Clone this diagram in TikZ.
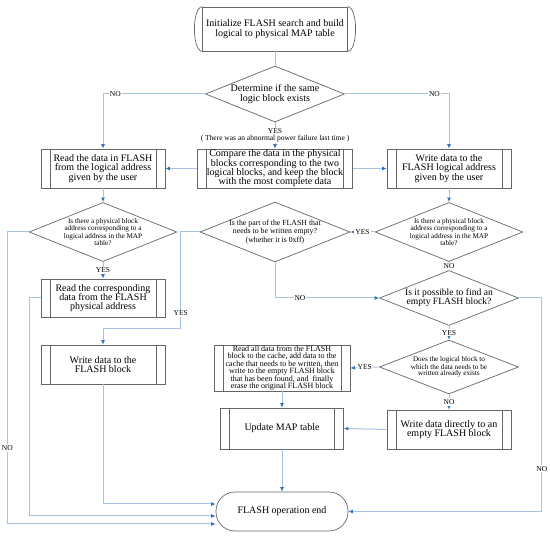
\documentclass[tikz,border=0pt]{standalone}
\usepackage{fontspec}
\setmainfont{Liberation Serif}
\usepackage{tikz}
\usetikzlibrary{shapes.geometric,arrows.meta}
\definecolor{fcLine}{HTML}{A7C3DF}
\definecolor{fcTip}{HTML}{2E75C0}
\definecolor{fcEdge}{HTML}{666666}

\begin{document}
\begin{tikzpicture}[x=1pt,y=-1pt,font=\fontsize{10}{9.3}\selectfont,
  procBox/.style={draw=fcEdge,line width=0.7pt,rectangle,align=center,inner sep=0.5pt,
    minimum width=124pt,minimum height=39pt,
    path picture={
      \draw[fcEdge,line width=0.7pt] ([xshift=9pt]path picture bounding box.north west) -- ([xshift=9pt]path picture bounding box.south west);
      \draw[fcEdge,line width=0.7pt] ([xshift=-9pt]path picture bounding box.north east) -- ([xshift=-9pt]path picture bounding box.south east);}},
  decBox/.style={draw=fcEdge,line width=0.7pt,diamond,aspect=2.5,align=center,inner sep=0pt,
    minimum width=139pt,minimum height=55pt},
  smallTxt/.style={font=\fontsize{7.2}{6.2}\selectfont},
  flow/.style={fcLine,line width=1pt,-{Latex[length=4.5pt,width=4pt,color=fcTip]}},
  link/.style={fcLine,line width=1pt},
  lbl/.style={fill=white,text=black,inner sep=1pt,font=\fontsize{7.5}{7}\selectfont}]
  \useasboundingbox (0,0) rectangle (550,540);
  % start block
  \node[draw=fcEdge,line width=0.7pt,align=center,minimum width=144pt,minimum height=44pt] (init) at (275,29)
    {Initialize FLASH search and build\\logical to physical MAP table};
  \draw[fcEdge,line width=0.7pt] (init.north west) .. controls +(-10.7,0) and +(-10.7,0) .. (init.south west);
  \draw[fcEdge,line width=0.7pt] (init.north east) .. controls +(10.7,0) and +(10.7,0) .. (init.south east);
  \node[decBox,minimum height=56pt] (dec1) at (275,94) {Determine if the same\\logic block exists};
  % first row of blocks
  \node[procBox] (rd) at (103,168.5) {Read the data in FLASH\\from the logical address\\given by the user};
  \node[procBox,minimum width=155pt] (cmp) at (275,168.5) {Compare the data in the physical\\blocks corresponding to the two\\logical blocks, and keep the block\\with the most complete data};
  \node[procBox] (wr) at (449,168.5) {Write data to the\\FLASH logical address\\given by the user};
  % decisions
  \node[decBox,smallTxt,minimum height=54pt] (decL) at (103,232) {Is there a physical block\\address corresponding to a\\logical address in the MAP\\table?};
  \node[decBox,font=\fontsize{7.8}{6.6}\selectfont] (decM) at (275,232) {Is the part of the FLASH that\\needs to be written empty?\\(whether it is 0xff)};
  \node[decBox,smallTxt,minimum height=54pt] (decR) at (449,232) {Is there a physical block\\address corresponding to a\\logical address in the MAP\\table?};
  \node[procBox,minimum height=38pt] (rd2) at (103,298) {Read the corresponding\\data from the FLASH\\physical address};
  \node[decBox,font=\fontsize{9.6}{8.8}\selectfont] (decF) at (449,298) {Is it possible to find an\\empty FLASH block?};
  \node[procBox] (wfb) at (103,364.5) {Write data to the\\FLASH block};
  \node[decBox,smallTxt,minimum height=54pt] (decD) at (449,367) {Does the logical block to\\which the data needs to be\\written already exists};
  \node[procBox,font=\fontsize{8}{7.4}\selectfont,minimum width=136pt,minimum height=46pt] (cpy) at (282,368)
    {Read all data from the FLASH\\block to the cache, add data to the\\cache that needs to be written, then\\write to the empty FLASH block\\that has been found, and\ \ finally\\erase the original FLASH block};
  \node[procBox,minimum width=123pt,minimum height=41pt] (upd) at (282,428.5) {Update MAP table};
  \node[procBox] (wd) at (449,429.5) {Write data directly to an\\empty FLASH block};
  % end
  \node[draw=fcEdge,line width=0.7pt,rounded corners=19pt,minimum width=132pt,minimum height=39pt] (fin) at (282,511.5) {FLASH operation end};
  % connectors
  \draw[link] (init) -- (dec1);
  \draw[flow] (dec1.west) -| node[lbl,pos=0.44]{NO} (rd.north);
  \draw[flow] (dec1.east) -| node[lbl,pos=0.43]{NO} (wr.north);
  \draw[flow] (dec1.south) -- node[lbl,align=center,font=\fontsize{7.5}{6.5}\selectfont]{YES\\( There was an abnormal power failure last time )} (cmp.north);
  \draw[flow] (cmp.west) -- (rd.east);
  \draw[flow] (cmp.east) -- (wr.west);
  \draw[flow] (rd.south) -- (decL.north);
  \draw[flow] (wr.south) -- (decR.north);
  \draw[flow] (decL.south) -- node[lbl]{YES} (rd2.north);
  \draw[flow] (decL.west) -- ++(-21.5,0) |- node[lbl,pos=0.37]{NO} ([yshift=-12.5pt]fin.west);
  \draw[flow] (rd2.west) -- ++(-11,0) |- ([yshift=-4.5pt]fin.west);
  \draw[flow] (wfb.south) |- ([yshift=7.5pt]fin.west);
  \draw[flow] (decM.west) -- ++(-19,0) |- node[lbl,pos=0.42]{YES} ([yshift=16pt]wfb.north) -- (wfb.north);
  \draw[flow] (decR.west) -- node[lbl]{YES} (decM.east);
  \draw[flow] (decR.south) -- node[lbl]{NO} (decF.north);
  \draw[flow] (decM.south) |- node[lbl,pos=0.62]{NO} (decF.west);
  \draw[flow] (decF.east) -- ++(23,0) |- node[lbl,pos=0.4]{NO} (fin.east);
  \draw[flow] (decF.south) -- node[lbl]{YES} (decD.north);
  \draw[flow] (decD.west) -- node[lbl]{YES} (cpy.east);
  \draw[flow] (decD.south) -- node[lbl]{NO} (wd.north);
  \draw[flow] (cpy.south) -- (upd.north);
  \draw[flow] (wd.west) -- (upd.east);
  \draw[flow] (upd.south) -- (fin.north);
\end{tikzpicture}
\end{document}
